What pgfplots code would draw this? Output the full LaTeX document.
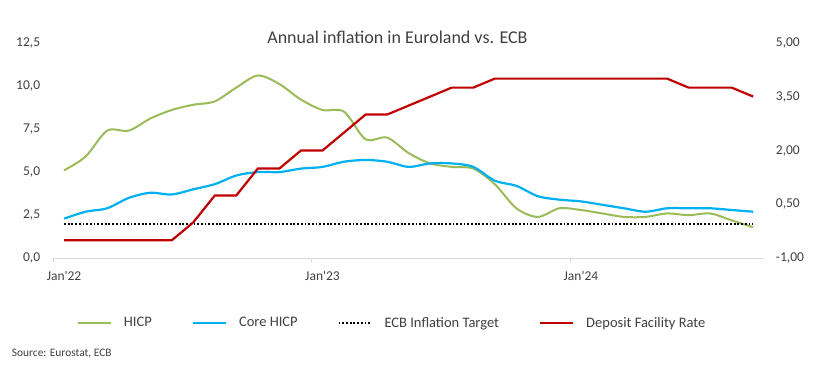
\documentclass[border=0pt]{standalone}
\usepackage{pgfplots}
\pgfplotsset{compat=1.18}
\usepackage{fontspec}
\setmainfont{Carlito}
\definecolor{hicp}{RGB}{155,187,89}
\definecolor{core}{RGB}{0,176,240}
\definecolor{dfr}{RGB}{192,0,0}
\definecolor{txt}{RGB}{64,64,64}
\definecolor{axl}{RGB}{217,217,217}
\begin{document}
\begin{tikzpicture}[x=1pt,y=1pt]
\useasboundingbox (0,0) rectangle (830,370);
\begin{axis}[
  at={(53.3pt,111.7pt)}, anchor=south west, scale only axis,
  width=710.7pt, height=215.6pt,
  xmin=-0.5, xmax=32.5, ymin=0, ymax=12.5,
  axis x line*=bottom, axis y line*=left,
  x axis line style={draw=axl, line width=0.8pt, -},
  y axis line style={draw=none},
  ytick={0,2.5,5,7.5,10,12.5},
  yticklabels={{0,0},{2,5},{5,0},{7,5},{10,0},{12,5}},
  ytick style={draw=none},
  yticklabel style={font=\fontsize{13.5}{16}\selectfont, text=txt, anchor=east, inner sep=0pt, xshift=-13pt},
  xtick={0,12,24},
  xticklabels={Jan\textquotesingle 22,Jan\textquotesingle 23,Jan\textquotesingle 24},
  xtick style={draw=none},
  xticklabel style={font=\fontsize{13.5}{16}\selectfont, text=txt, anchor=north, inner sep=0pt, yshift=-12.7pt},
  extra x ticks={-0.5,11.5,23.5},
  extra x tick labels={},
  extra x tick style={xtick style={draw=axl, line width=0.8pt}, tick align=outside, major tick length=4pt},
  legend image code/.code={\draw[#1] (0pt,0pt) -- (33pt,0pt);},
  legend style={at={(axis description cs:0.0333,-0.300)}, anchor=west, draw=none, fill=none,
    inner sep=0pt, outer sep=0pt, font=\fontsize{14.5}{17}\selectfont, text=txt,
    nodes={inner sep=0pt},
    /tikz/every even column/.append style={column sep=40pt},
    /tikz/every odd column/.append style={column sep=12pt}},
  legend columns=4,
  legend cell align=left,
]
\addplot[hicp, line width=2pt, smooth, tension=0.5] coordinates {
(0,5.1)(1,5.9)(2,7.4)(3,7.4)(4,8.1)(5,8.6)(6,8.9)(7,9.1)(8,9.9)(9,10.6)(10,10.1)(11,9.2)
(12,8.6)(13,8.5)(14,6.9)(15,7.0)(16,6.1)(17,5.5)(18,5.3)(19,5.2)(20,4.3)(21,2.9)(22,2.4)(23,2.9)
(24,2.8)(25,2.6)(26,2.4)(27,2.4)(28,2.6)(29,2.5)(30,2.6)(31,2.2)(32,1.8)};
\addlegendentry{HICP}
\addplot[core, line width=2.2pt, smooth, tension=0.5] coordinates {
(0,2.3)(1,2.7)(2,2.9)(3,3.5)(4,3.8)(5,3.7)(6,4.0)(7,4.3)(8,4.8)(9,5.0)(10,5.0)(11,5.2)
(12,5.3)(13,5.6)(14,5.7)(15,5.6)(16,5.3)(17,5.5)(18,5.5)(19,5.3)(20,4.5)(21,4.2)(22,3.6)(23,3.4)
(24,3.3)(25,3.1)(26,2.9)(27,2.7)(28,2.9)(29,2.9)(30,2.9)(31,2.8)(32,2.7)};
\addlegendentry{Core HICP}
\addplot[black, line width=1.8pt, dash pattern=on 1.8pt off 1.9pt] coordinates {(0,2)(32,2)};
\addlegendentry{ECB Inflation Target}
\addlegendimage{dfr, line width=2.2pt}
\addlegendentry{Deposit Facility Rate}
\end{axis}
\begin{axis}[
  at={(53.3pt,111.7pt)}, anchor=south west, scale only axis,
  width=710.7pt, height=215.6pt,
  xmin=-0.5, xmax=32.5, ymin=-1, ymax=5,
  axis x line=none, axis y line*=right,
  y axis line style={draw=none},
  xtick=\empty,
  ytick={-1,0.5,2,3.5,5},
  yticklabels={{-1,00},{0,50},{2,00},{3,50},{5,00}},
  ytick style={draw=none},
  yticklabel style={font=\fontsize{13.5}{16}\selectfont, text=txt, anchor=west, inner sep=0pt, xshift=11.7pt},
]
\addplot[dfr, line width=2.2pt] coordinates {
(0,-0.5)(1,-0.5)(2,-0.5)(3,-0.5)(4,-0.5)(5,-0.5)(6,0)(7,0.75)(8,0.75)(9,1.5)(10,1.5)(11,2.0)
(12,2.0)(13,2.5)(14,3.0)(15,3.0)(16,3.25)(17,3.5)(18,3.75)(19,3.75)(20,4.0)(21,4.0)(22,4.0)(23,4.0)
(24,4.0)(25,4.0)(26,4.0)(27,4.0)(28,4.0)(29,3.75)(30,3.75)(31,3.75)(32,3.5)};
\end{axis}
\node[font=\fontsize{18}{22}\selectfont, text=txt, anchor=base] at (397.5,326.7) {Annual inflation in Euroland vs. ECB};
\node[font=\fontsize{11.4}{14}\selectfont, text=txt, anchor=base west, inner sep=0pt] at (11.7,14) {Source: Eurostat, ECB};
\end{tikzpicture}
\end{document}
